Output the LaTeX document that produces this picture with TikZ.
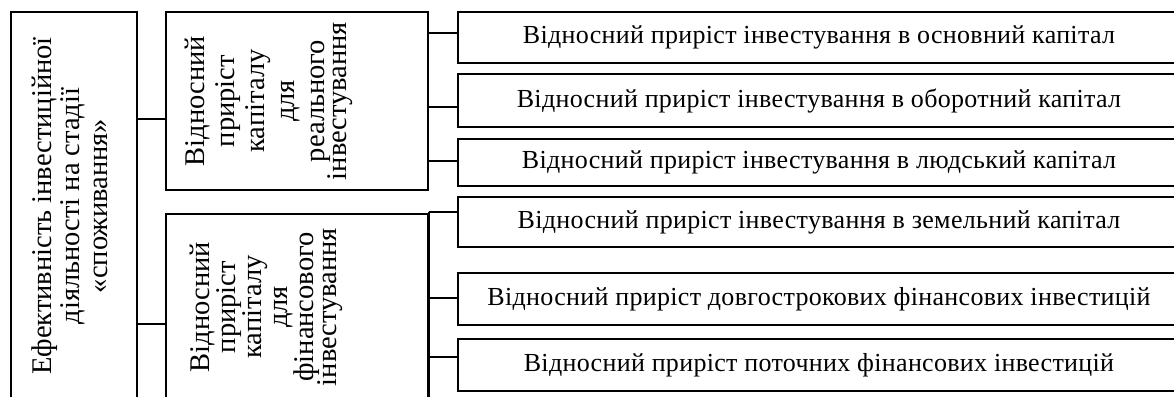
\documentclass[tikz,border=0pt]{standalone}
\usepackage{fontspec}
\setmainfont{Liberation Serif}
\newfontfamily\spacedserif[LetterSpace=1.2]{Liberation Serif}
\begin{document}
\begin{tikzpicture}[x=1pt,y=-1pt,
  bx/.style={draw, line width=1.6pt, inner sep=0pt},
  ln/.style={line width=1.6pt},
  ht/.style={font=\spacedserif\fontsize{26}{30}\selectfont},
  rt/.style={rotate=90, align=center, inner sep=0pt}]
\useasboundingbox (0,0) rectangle (1174,396);
\begin{scope}
\clip (0,0) rectangle (1174,396);
% boxes
\node[bx, minimum width=126, minimum height=388] (main) at (74,206) {};
\node[bx, minimum width=262, minimum height=178] (real) at (297,101) {};
\node[bx, minimum width=262, minimum height=186] (fin) at (297,307) {};
\node[bx, ht, minimum width=722, minimum height=51] (r1) at (819,37.5) {Відносний приріст інвестування в основний капітал};
\node[bx, ht, minimum width=722, minimum height=53] (r2) at (819,100.5) {Відносний приріст інвестування в оборотний капітал};
\node[bx, ht, minimum width=722, minimum height=47] (r3) at (819,162.5) {Відносний приріст інвестування в людський капітал};
\node[bx, ht, minimum width=722, minimum height=50] (r4) at (819,222) {Відносний приріст інвестування в земельний капітал};
\node[bx, ht, minimum width=722, minimum height=52] (r5) at (819,299) {Відносний приріст довгострокових фінансових інвестицій};
\node[bx, ht, minimum width=722, minimum height=52] (r6) at (819,365) {Відносний приріст поточних фінансових інвестицій};
% rotated texts
\node[rt, font=\fontsize{28.5}{28}\selectfont] (tmain) at (70,206) {Ефективність інвестиційної\\діяльності на стадії\\«споживання»};
\node[rt, font=\fontsize{28.5}{30}\selectfont] (treal) at (269,101) {Відносний\\приріст\\капіталу\\для\\реального\\[-8pt]інвестування};
\node[rt, font=\fontsize{28.5}{26}\selectfont] (tfin) at (266,307) {Відносний\\приріст\\капіталу\\для\\фінансового\\[-3pt]інвестування};
% connectors main
\coordinate (ya) at (0,119);
\coordinate (yb) at (0,324);
\draw[ln] (main.east |- ya) -- (real.west |- ya);
\draw[ln] (main.east |- yb) -- (fin.west |- yb);
% real bracket
\coordinate (y1) at (0,33);
\coordinate (y2) at (0,107);
\coordinate (y3) at (0,161);
\draw[ln] (real.east |- y1) -- (r1.west |- y1);
\draw[ln] (real.east |- y2) -- (r2.west |- y2);
\draw[ln] (real.east |- y3) -- (r3.west |- y3);
% fin bracket
\coordinate (fb) at (429,212);
\coordinate (fe) at (429,400);
\coordinate (y5) at (0,298);
\coordinate (y6) at (0,357);
\draw[ln] (fin.north east) -- (fb) -- (fe);
\draw[ln] (fb) -- (r4.west |- fb);
\draw[ln] (fb |- y5) -- (r5.west |- y5);
\draw[ln] (fb |- y6) -- (r6.west |- y6);
\end{scope}
\end{tikzpicture}
\end{document}
